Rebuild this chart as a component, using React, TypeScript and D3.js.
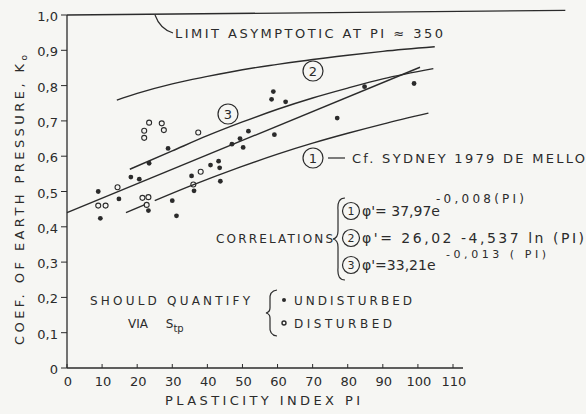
import React from "react";
import * as d3 from "d3";

const xTicks = [0, 10, 20, 30, 40, 50, 60, 70, 80, 90, 100, 110];
const xTickLabels = ["0", "10", "20", "30", "40", "50", "60", "70", "80", "90", "100", "110"];
const yTicks = [0, 0.1, 0.2, 0.3, 0.4, 0.5, 0.6, 0.7, 0.8, 0.9, 1.0];
const yTickLabels = ["0", "0,1", "0,2", "0,3", "0,4", "0,5", "0,6", "0,7", "0,8", "0,9", "1,0"];

// filled dots (undisturbed)
const undisturbedPI = [8.9, 14.8, 9.5, 18.2, 20.6, 23.4, 28.8, 23.2, 30.0, 31.2, 35.5, 36.2, 40.9, 43.2, 43.5, 43.7, 47.0, 49.3, 51.7, 50.2, 58.8, 58.3, 62.3, 59.1, 77.0, 84.8, 98.9];
const undisturbedK = [0.500, 0.479, 0.424, 0.541, 0.535, 0.580, 0.622, 0.446, 0.474, 0.431, 0.544, 0.502, 0.575, 0.586, 0.567, 0.529, 0.634, 0.650, 0.671, 0.625, 0.783, 0.761, 0.754, 0.661, 0.708, 0.797, 0.806];
// open circles (disturbed)
const disturbedPI = [23.4, 27.0, 22.0, 27.6, 22.0, 37.4, 14.4, 8.9, 11.0, 21.5, 23.2, 22.7, 38.1, 36.0];
const disturbedK = [0.695, 0.693, 0.672, 0.674, 0.652, 0.667, 0.512, 0.460, 0.460, 0.482, 0.484, 0.462, 0.556, 0.520];

// correlation curves
const curve1aPI = [16.8, 22.2];
const curve1aK = [0.440, 0.463];
const curve1bPI = [25, 35, 49.3, 60, 70, 80, 90, 103];
const curve1bK = [0.474, 0.515, 0.569, 0.606, 0.637, 0.665, 0.691, 0.722];
const curve2PI = [14.2, 20, 30, 40, 50, 60, 70, 80, 90, 104.8];
const curve2K = [0.759, 0.778, 0.805, 0.826, 0.845, 0.860, 0.874, 0.886, 0.897, 0.910];
const curve3PI = [17.9, 30, 40, 50, 60, 70, 80, 90, 104.4];
const curve3K = [0.563, 0.615, 0.658, 0.697, 0.733, 0.765, 0.793, 0.819, 0.848];
const regressionPI = [0, 100.6];
const regressionK = [0.44, 0.852];
const limitPI = [0, 142];
const limitK = [1.0, 1.013];

const INK = "#2b2b2b";
const FONT = "'DejaVu Sans', sans-serif";

const zip = (a: number[], b: number[]) => a.map((v, i) => [v, b[i]] as [number, number]);

function Circled({ cx, cy, r, label, fs }: { cx: number; cy: number; r: number; label: string; fs: number }) {
  return (
    <g>
      <circle cx={cx} cy={cy} r={r} fill="none" stroke={INK} strokeWidth={1.2} />
      <text x={cx} y={cy + fs * 0.36} textAnchor="middle" fontSize={fs} fill={INK} fontFamily={FONT}>{label}</text>
    </g>
  );
}

export default function App() {
  const x = d3.scaleLinear().domain([0, 110]).range([67, 453]);
  const y = d3.scaleLinear().domain([0, 1]).range([368, 15]);
  const smooth = d3.line<[number, number]>().x((d) => x(d[0])).y((d) => y(d[1])).curve(d3.curveMonotoneX);
  const straight = d3.line<[number, number]>().x((d) => x(d[0])).y((d) => y(d[1]));

  const curves = [zip(curve1aPI, curve1aK), zip(curve1bPI, curve1bK), zip(curve2PI, curve2K), zip(curve3PI, curve3K)];

  return (
    <svg width={586} height={414} style={{ position: "absolute", left: 0, top: 0 }} fontFamily={FONT}>
      <rect x={0} y={0} width={586} height={414} fill="#f6f6f3" />
      {/* axes */}
      <line x1={x(0)} x2={463} y1={y(0)} y2={y(0)} stroke={INK} strokeWidth={1.3} />
      <line x1={x(0)} x2={x(0)} y1={y(0)} y2={y(1)} stroke={INK} strokeWidth={1.3} />
      {xTicks.map((t, i) => (
        <g key={"xt" + i}>
          <line x1={x(t)} x2={x(t)} y1={y(0)} y2={y(0) - 4} stroke={INK} strokeWidth={1} />
          <text x={x(t) + 1} y={386} textAnchor="middle" fontSize={13} fill={INK}>{xTickLabels[i]}</text>
        </g>
      ))}
      {yTicks.map((t, i) => (
        <g key={"yt" + i}>
          <line x1={x(0) - 6} x2={x(0)} y1={y(t)} y2={y(t)} stroke={INK} strokeWidth={1} />
          <text x={58} y={y(t) + 6} textAnchor="end" fontSize={13} fill={INK}>{yTickLabels[i]}</text>
        </g>
      ))}
      {/* axis titles */}
      <text x={165} y={405} fontSize={13} fill={INK} textLength={195} lengthAdjust="spacing">PLASTICITY INDEX PI</text>
      <text transform="translate(24,345) rotate(-90)" fontSize={13} fill={INK} textLength={290} lengthAdjust="spacing">
        COEF. OF EARTH PRESSURE, K<tspan fontSize={9} dy={3}>o</tspan>
      </text>

      {/* limit line */}
      <path d={straight(zip(limitPI, limitK)) || ""} fill="none" stroke={INK} strokeWidth={1.3} />
      <path d="M155,15 Q160,29 173,33" fill="none" stroke={INK} strokeWidth={1.2} />
      <text x={175} y={38} fontSize={13} fill={INK} textLength={268} lengthAdjust="spacing">LIMIT ASYMPTOTIC AT PI ≈ 350</text>

      {/* curves */}
      {curves.map((c, i) => (
        <path key={"c" + i} d={smooth(c) || ""} fill="none" stroke={INK} strokeWidth={1.4} />
      ))}
      <path d={straight(zip(regressionPI, regressionK)) || ""} fill="none" stroke={INK} strokeWidth={1.4} />

      {/* points */}
      {undisturbedPI.map((p, i) => (
        <circle key={"u" + i} cx={x(p)} cy={y(undisturbedK[i])} r={2.4} fill={INK} />
      ))}
      {disturbedPI.map((p, i) => (
        <circle key={"d" + i} cx={x(p)} cy={y(disturbedK[i])} r={2.5} fill="none" stroke={INK} strokeWidth={1.1} />
      ))}

      {/* curve labels */}
      <Circled cx={313} cy={71} r={10} label="2" fs={13} />
      <Circled cx={228} cy={114} r={10} label="3" fs={13} />
      <Circled cx={313} cy={158} r={10} label="1" fs={13} />
      <line x1={328} x2={345} y1={158} y2={158} stroke={INK} strokeWidth={1.2} />
      <text x={352} y={163} fontSize={13} fill={INK} textLength={233} lengthAdjust="spacing">Cf. SYDNEY 1979 DE MELLO</text>

      {/* correlations */}
      <text x={216} y={243} fontSize={12} fill={INK} textLength={117} lengthAdjust="spacing">CORRELATIONS</text>
      <path d="M345,198 Q337,198 338,210 L338,231 Q338,238 333,239 Q338,240 338,247 L338,268 Q337,280 345,280" fill="none" stroke={INK} strokeWidth={1.2} />
      <Circled cx={351} cy={211} r={8.5} label="1" fs={11} />
      <text x={362} y={216} fontSize={14} fill={INK}>φ'= 37,97e</text>
      <text x={436} y={203} fontSize={12} fill={INK} textLength={88} lengthAdjust="spacing">-0,008(PI)</text>
      <Circled cx={351} cy={238} r={8.5} label="2" fs={11} />
      <text x={362} y={243} fontSize={14} fill={INK} textLength={222} lengthAdjust="spacing">φ'= 26,02 -4,537 ln (PI)</text>
      <Circled cx={351} cy={265} r={8.5} label="3" fs={11} />
      <text x={362} y={270} fontSize={14} fill={INK}>φ'=33,21e</text>
      <text x={446} y={258} fontSize={11} fill={INK} textLength={100} lengthAdjust="spacing">-0,013 ( PI)</text>

      {/* should quantify */}
      <text x={90} y={305} fontSize={12} fill={INK} textLength={160} lengthAdjust="spacing">SHOULD QUANTIFY</text>
      <text x={128} y={328} fontSize={12} fill={INK}>VIA <tspan dx={14}>S</tspan><tspan fontSize={10} dy={4}>tp</tspan></text>
      <path d="M277,290 Q269,291 270,300 L270,308 Q270,312 266,313 Q270,314 270,318 L270,326 Q269,335 277,336" fill="none" stroke={INK} strokeWidth={1.2} />
      <circle cx={284} cy={300} r={2} fill={INK} />
      <circle cx={284} cy={323} r={2} fill="none" stroke={INK} strokeWidth={1.4} />
      <text x={294} y={305} fontSize={12} fill={INK} textLength={118} lengthAdjust="spacing">UNDISTURBED</text>
      <text x={294} y={328} fontSize={12} fill={INK} textLength={98} lengthAdjust="spacing">DISTURBED</text>
    </svg>
  );
}
